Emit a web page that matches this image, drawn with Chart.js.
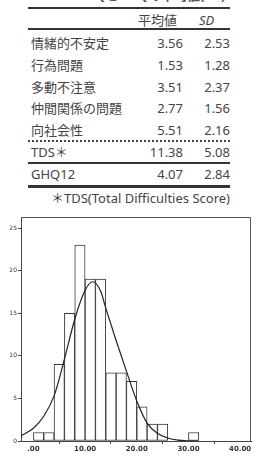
<!DOCTYPE html>
<html><head><meta charset="utf-8">
<script src="https://cdn.jsdelivr.net/npm/chart.js@4/dist/chart.umd.min.js"></script>
<style>
html,body{margin:0;padding:0;background:#fff;}
body{width:256px;height:459px;position:relative;overflow:hidden;font-family:"Noto Sans","Noto Sans CJK JP",sans-serif;color:#444;}
.t{position:absolute;height:20px;line-height:20px;font-size:13px;white-space:nowrap;}
.hl{position:absolute;left:28px;width:202px;background:#333;}
#cwrap{position:absolute;left:0;top:210px;width:256px;height:249px;}
</style></head><body>
<div class="t" style="top:-15px;left:30px;font-weight:bold;color:#555;">Table 1 SDQとGHQの平均値(SD)</div>
<div class="hl" style="top:7px;height:2px;"></div>
<div class="t" style="top:10px;left:138px;">平均値</div>
<div class="t" style="top:10px;left:199px;font-style:italic;">SD</div>
<div class="hl" style="top:28px;height:2px;"></div>
<div id="rows"></div>
<div class="hl" style="top:140px;height:0;background:none;border-top:2px dotted #444;"></div>
<div class="hl" style="top:162px;height:2px;"></div>
<div class="hl" style="top:185px;height:2.5px;"></div>
<div class="t" style="top:188px;right:26px;">＊TDS(Total Difficulties Score)</div>
<div id="cwrap"><canvas id="c" width="256" height="249"></canvas></div>
<script>
// table data
const rowLabels = ["情緒的不安定","行為問題","多動不注意","仲間関係の問題","向社会性","TDS＊","GHQ12"];
const rowMeans  = ["3.56","1.53","3.51","2.77","5.51","11.38","4.07"];
const rowSDs    = ["2.53","1.28","2.37","1.56","2.16","5.08","2.84"];
const rowCenters = [43,65,87,108,130,152,174];

// histogram data (bins of width 2 starting at 0)
const binStarts = [0,2,4,6,8,10,12,14,16,18,20,22,24,26,28,30];
const binCounts = [1,1,9,15,23,19,19,8,8,7,4,2,2,0,0,1];
// normal curve
const curveX = [-2.4,0,2,4,6,8,10,11.5,13,14,16,18,20,22,24,26,28,30,32];
const curveY = [0.6,1.5,2.9,5.3,9.6,14.3,17.7,18.7,17.6,15.6,11.8,8.2,4.7,2.1,0.9,0.35,0.1,0.02,0];
const xTickValues = [0,10,20,30,40];
const xTickLabels = [".00","10.00","20.00","30.00","40.00"];
const yTickValues = [0,5,10,15,20,25];
const yTickLabels = ["0","5","10","15","20","25"];

const rows = document.getElementById('rows');
rowLabels.forEach((lab,i)=>{
  const top = rowCenters[i]-10;
  rows.insertAdjacentHTML('beforeend',
    `<div class="t" style="top:${top}px;left:31px;">${lab}</div>`+
    `<div class="t" style="top:${top}px;right:73px;">${rowMeans[i]}</div>`+
    `<div class="t" style="top:${top}px;right:26px;">${rowSDs[i]}</div>`);
});

const framePlugin = {
  id:'frame',
  afterDatasetsDraw(chart){
    const {ctx, chartArea:a} = chart;
    ctx.save();
    ctx.strokeStyle='#555';ctx.lineWidth=1;
    ctx.beginPath();
    ctx.moveTo(a.left, a.top+0.5);ctx.lineTo(a.right-0.5, a.top+0.5);ctx.lineTo(a.right-0.5, a.bottom);
    ctx.stroke();
    ctx.restore();
  }
};

new Chart(document.getElementById('c'), {
  type:'bar',
  data:{
    datasets:[
      {
        type:'line',
        data: curveX.map((x,i)=>({x, y:curveY[i]})),
        borderColor:'#222', borderWidth:1.2, pointRadius:0,
        cubicInterpolationMode:'monotone', fill:false, order:0
      },
      {
        type:'bar',
        data: binStarts.map((s,i)=>({x:s+1, y:binCounts[i]})),
        backgroundColor:'#fff', borderColor:'#3a3a3a', borderWidth:1,
        borderSkipped:false, barPercentage:1, categoryPercentage:1, grouped:false, order:1
      }
    ]
  },
  options:{
    responsive:false, animation:false, devicePixelRatio:1,
    layout:{padding:{top:7,right:5,left:0,bottom:0}},
    plugins:{legend:{display:false},tooltip:{enabled:false}},
    scales:{
      x:{
        type:'linear', min:-2.4, max:42.1, offset:false,
        afterFit(s){s.height=18;s.paddingLeft=0;s.paddingRight=0;},
        afterBuildTicks(s){s.ticks=xTickValues.map(v=>({value:v}));},
        grid:{display:true,drawOnChartArea:false,drawTicks:true,tickLength:3,color:'#444'},
        border:{display:true,color:'#444',width:1},
        ticks:{padding:1,color:'#333',font:{family:'DejaVu Sans',size:7,weight:'bold'},
          maxRotation:0, autoSkip:false,
          callback:(v)=>{const i=xTickValues.indexOf(v);return i>=0?xTickLabels[i]:'';}}
      },
      y:{
        type:'linear', min:0, max:26.3,
        afterFit(s){s.width=21;s.paddingTop=0;s.paddingBottom=0;},
        afterBuildTicks(s){s.ticks=yTickValues.map(v=>({value:v}));},
        grid:{display:true,drawOnChartArea:false,drawTicks:true,tickLength:3,color:'#444'},
        border:{display:true,color:'#444',width:1},
        ticks:{padding:1,color:'#333',font:{family:'DejaVu Sans',size:6},
          autoSkip:false,
          callback:(v)=>{const i=yTickValues.indexOf(v);return i>=0?yTickLabels[i]:'';}}
      }
    }
  },
  plugins:[framePlugin]
});
</script>
</body></html>
